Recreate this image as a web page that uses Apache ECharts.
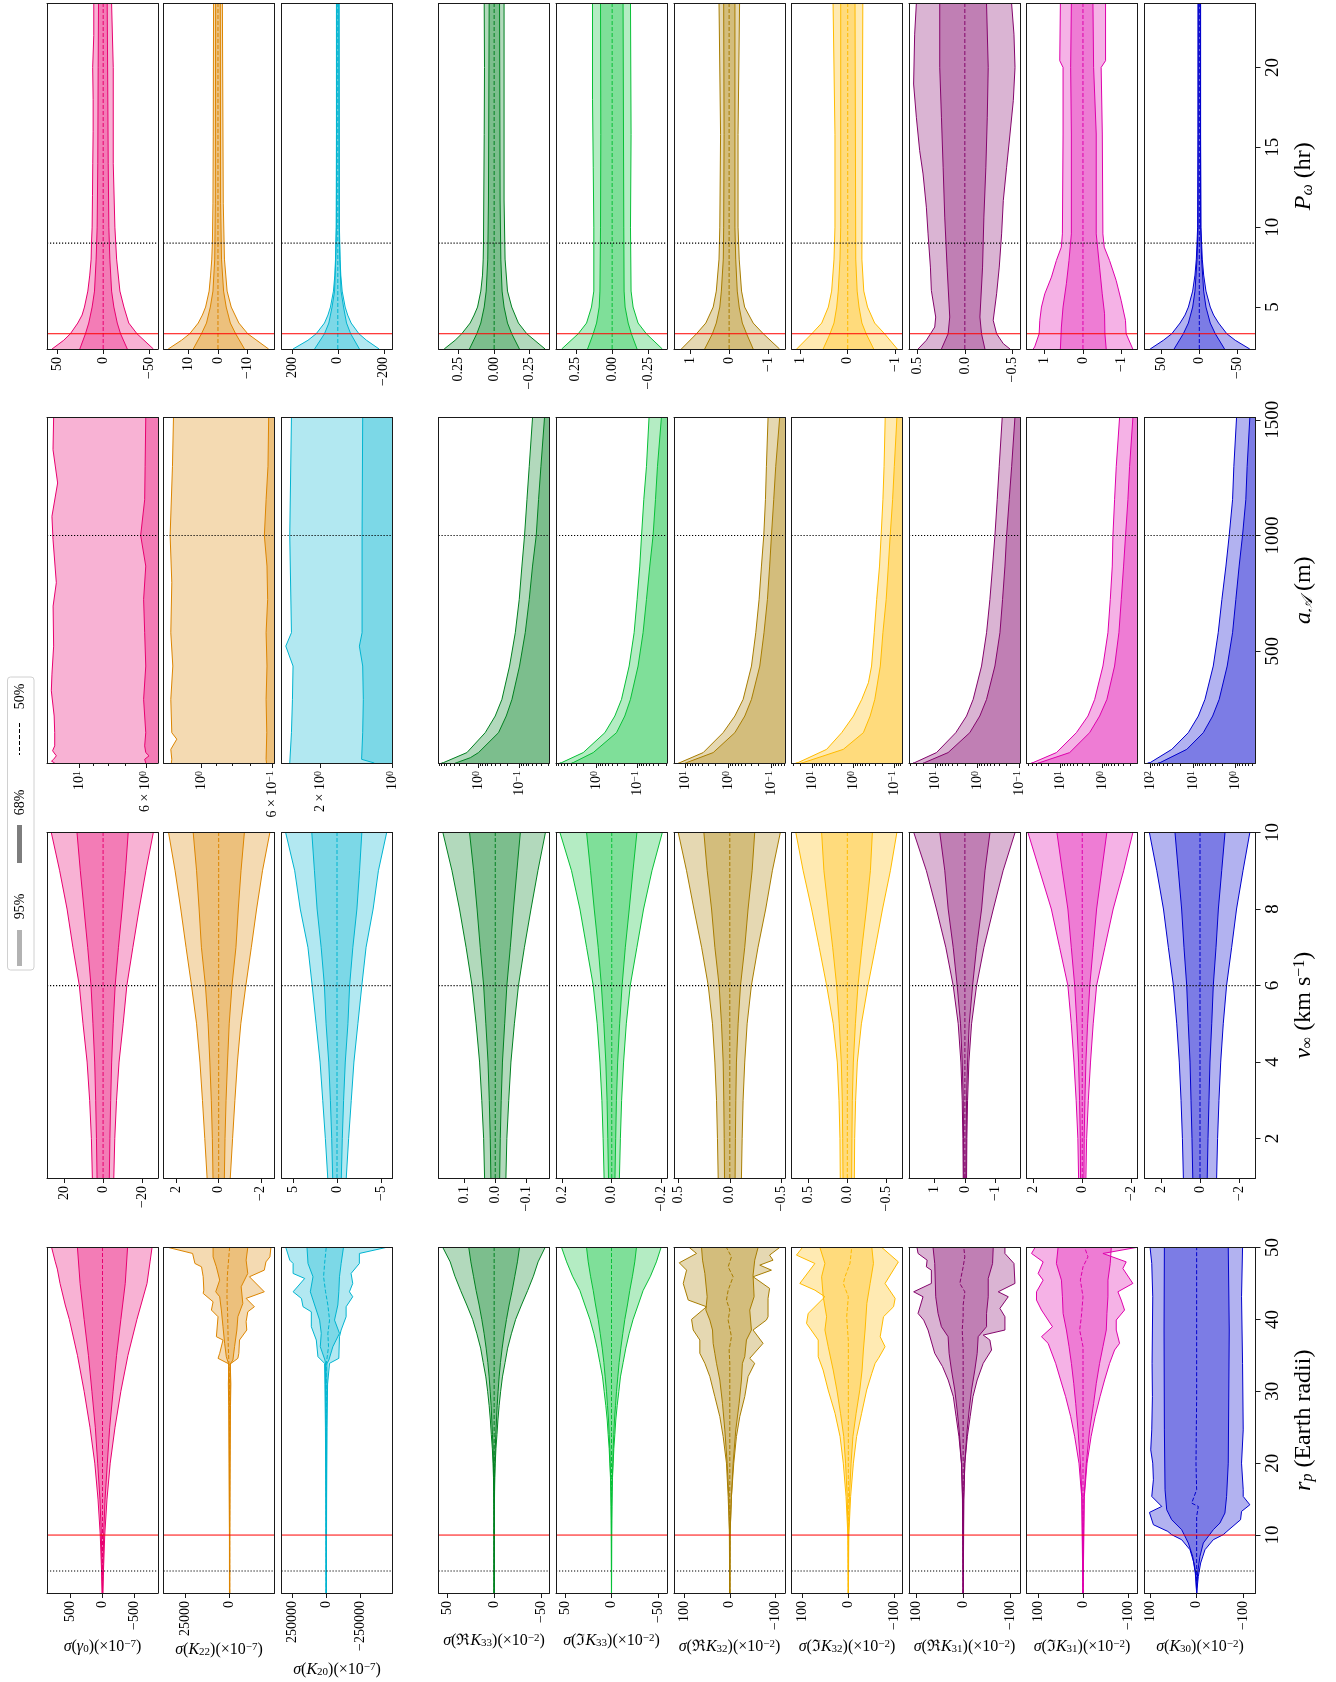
<!DOCTYPE html>
<html><head><meta charset="utf-8">
<script src="https://cdn.jsdelivr.net/npm/echarts/dist/echarts.min.js"></script>
<style>html,body{margin:0;padding:0;background:#fff}#c{width:1336px;height:1682px}</style>
</head><body><div id="c"></div>
<script>
// ---------------- DATA ----------------
// rows: 0 = P_omega (hr), 1 = a_A (m), 2 = v_inf (km/s), 3 = r_p (Earth radii)
const P_range = [2.375, 24], a_range = [17, 1510], v_range = [0.97, 10], rp_range = [1.94, 50];
const P_axisTicks = [5, 10, 15, 20], a_axisTicks = [500, 1000, 1500], v_axisTicks = [2, 4, 6, 8, 10], rp_axisTicks = [10, 20, 30, 40, 50];
const P_refDotted = 9, P_refRed = 3.33, a_refDotted = 1000, v_refDotted = 6, rp_refDotted = 5, rp_refRed = 10;

// value-axis ranges [min, max] per column
const P_vr = [[-60,61.5],[-19.2,18.5],[-238,245],[-0.39,0.392],[-0.377,0.386],[-1.44,1.42],[-1.16,1.19],[-0.585,0.592],[-1.41,1.46],[-73.5,71.7]];
const a_vr = [[5.46,12.84],[0.589,1.318],[1.0,2.9],[0.0186,9.46],[0.0188,9.3],[0.0483,18.7],[0.063,32.8],[0.096,43.7],[0.137,67.7],[0.341,136]];
const v_vr = [[-28.2,28.8],[-2.65,2.62],[-6.3,6.3],[-0.173,0.181],[-0.224,0.226],[-0.532,0.538],[-0.705,0.713],[-1.79,1.815],[-2.27,2.29],[-2.84,2.84]];
const rp_vr = [[-864,864],[-25166,37055],[-490200,330900],[-58.7,59],[-59.6,59.6],[-120.7,122],[-118,123.8],[-121.5,115.7],[-121.5,126],[-126.4,112]];

// value-axis tick labels
const P_ticks = [['50','0','−50'],['10','0','−10'],['200','0','−200'],['0.25','0.00','−0.25'],['0.25','0.00','−0.25'],['1','0','−1'],['1','0','−1'],['0.5','0.0','−0.5'],['1','0','−1'],['50','0','−50']];
const v_ticks = [['20','0','−20'],['2','0','−2'],['5','0','−5'],['0.1','0.0','−0.1'],['0.2','0.0','−0.2'],['0.5','0.0','−0.5'],['0.5','0.0','−0.5'],['1','0','−1'],['2','0','−2'],['2','0','−2']];
const rp_ticks = [['500','0','−500'],['25000','0'],['250000','0','−250000'],['50','0','−50'],['50','0','−50'],['100','0','−100'],['100','0','−100'],['100','0','−100'],['100','0','−100'],['100','0','−100']];
// log ticks: [value, mantissa, exponent]
const a_ticks = [[[10,1,1],[6,6,0]],[[1,1,0],[0.6,6,-1]],[[2,2,0],[1,1,0]],[[1,1,0],[0.1,1,-1]],[[1,1,0],[0.1,1,-1]],[[10,1,1],[1,1,0],[0.1,1,-1]],[[10,1,1],[1,1,0],[0.1,1,-1]],[[10,1,1],[1,1,0],[0.1,1,-1]],[[10,1,1],[1,1,0]],[[100,1,2],[10,1,1],[1,1,0]]];

const colNames = [
 '{i|σ}{n|(}{i|γ}{sb|0}{n|)(×10}{sp|−7}{n|)}',
 '{i|σ}{n|(}{i|K}{sb|22}{n|)(×10}{sp|−7}{n|)}',
 '{i|σ}{n|(}{i|K}{sb|20}{n|)(×10}{sp|−7}{n|)}',
 '{i|σ}{n|(ℜ}{i|K}{sb|33}{n|)(×10}{sp|−2}{n|)}',
 '{i|σ}{n|(ℑ}{i|K}{sb|33}{n|)(×10}{sp|−2}{n|)}',
 '{i|σ}{n|(ℜ}{i|K}{sb|32}{n|)(×10}{sp|−2}{n|)}',
 '{i|σ}{n|(ℑ}{i|K}{sb|32}{n|)(×10}{sp|−2}{n|)}',
 '{i|σ}{n|(ℜ}{i|K}{sb|31}{n|)(×10}{sp|−2}{n|)}',
 '{i|σ}{n|(ℑ}{i|K}{sb|31}{n|)(×10}{sp|−2}{n|)}',
 '{i|σ}{n|(}{i|K}{sb|30}{n|)(×10}{sp|−2}{n|)}'
];
const rowNames = ['{i|P}{sbi|ω}{n| (hr)}', '{i|a}{sbi|𝒜}{n| (m)}', '{i|v}{sb|∞}{n| (km s}{sp|−1}{n|)}', '{i|r}{sbi|p}{n| (Earth radii)}'];

// ---------- r_p row ----------
const rp_g0 = {
 hi95: [[1.94,6],[5,15],[10,35],[15,70],[20,120],[25,195],[30,286],[35,390],[40,516],[42,580],[45,661],[47,703],[48,735],[50,792]],
 hi68: [[1.94,3],[5,8],[10,18],[15,40],[20,75],[25,112],[30,165],[35,219],[40,286],[45,349],[50,390]],
 med: [[1.94,0],[10,0],[20,0],[30,0],[40,0],[50,0]],
 lo68: [[1.94,-3],[5,-8],[10,-18],[15,-40],[20,-75],[25,-112],[30,-165],[35,-219],[40,-286],[45,-354],[50,-390]],
 lo95: [[1.94,-6],[5,-15],[10,-35],[15,-70],[20,-120],[25,-195],[30,-286],[35,-396],[40,-536],[45,-693],[48,-740],[50,-771]]
};
const rp_K22 = {
 hi95: [[1.94,80],[10,100],[20,300],[28,500],[31,700],[33.8,370],[34.58,6482],[35.28,5556],[37.13,3704],[37.59,7408],[40.37,6482],[41.3,10186],[42.45,9260],[43.61,14816],[44.07,14446],[45.93,14816],[47.31,15742],[47.78,19446],[49.17,20742],[50,34262]],
 hi68: [[1.94,30],[10,50],[20,150],[28,250],[31,350],[33.8,556],[34.81,1852],[36.67,2778],[38.98,3704],[41.3,4630],[43.15,5556],[43.84,7778],[45.46,5556],[47.31,7408],[48.7,9260],[50,9260]],
 med: [[1.94,0],[31,0],[33.8,370],[36.2,741],[38.52,926],[40.83,1111],[43.15,1482],[45.93,1296],[47.78,741],[50,0]],
 lo68: [[1.94,-30],[10,-50],[20,-150],[28,-250],[31,-350],[33.8,-370],[34.35,-1852],[36.2,-2778],[38.52,-4074],[40.37,-4630],[42.22,-7408],[44.54,-6482],[46.39,-10186],[48.24,-9260],[50,-10186]],
 lo95: [[1.94,-80],[10,-100],[20,-300],[28,-500],[31,-700],[33.8,-370],[34.58,-4630],[35.28,-5186],[37.13,-5556],[38.52,-9630],[39.68,-9260],[41.06,-10186],[41.76,-13890],[42.92,-9260],[43.84,-19446],[45.93,-11112],[46.85,-19446],[48.0,-20372],[48.7,-22594],[50,-23150]]
};
const rp_K20 = {
 hi95: [[1.94,1000],[15,3000],[25,6000],[31,10000],[33.89,12300],[34.81,61300],[37.13,73500],[38.98,110300],[41.06,110300],[41.76,171600],[42.92,183800],[43.84,245100],[45.69,159300],[46.39,245100],[47.78,245100],[48.24,269600],[50,299000]],
 hi68: [[1.94,500],[15,1500],[25,3000],[31,5000],[33.8,4900],[34.35,9800],[36.2,44100],[38.06,36800],[39.9,49000],[42,85800],[43.84,117600],[45.93,98000],[47.78,134800],[50,142200]],
 med: [[1.94,0],[33.8,0],[36.2,-17000],[38,-12000],[39.9,-24500],[42,-12000],[43.84,4900],[45.93,19600],[47.78,12000],[50,0]],
 lo68: [[1.94,-500],[15,-1500],[25,-3000],[31,-5000],[33.8,-4900],[34.35,-19600],[36.2,-49000],[38.06,-98000],[39.9,-61300],[42,-85800],[43.84,-93100],[45.93,-98000],[47.78,-110300],[50,-127500]],
 lo95: [[1.94,-1000],[15,-3000],[25,-6000],[31,-10000],[33.89,-24500],[34.58,-93100],[37.59,-98000],[38.52,-110300],[40.37,-147100],[41.76,-147100],[43.15,-196100],[43.84,-171600],[45,-196100],[46.39,-183800],[47.78,-245100],[49.17,-245100],[50,-441200]]
};
const rp_ReK33 = {
 x:    [1.94,10,12,14,16,18,20,22,24,26,28,30,32,34,36,38,40,42,44,46,48,50],
 hi95: [0.05,0.12,0.2,0.3,0.45,0.7,1.2,1.9,3.0,4.0,5.3,6.9,8.8,11.6,14.3,18.3,22.8,29,35.5,41.6,46.6,54.4],
 hi68: [0.03,0.07,0.12,0.2,0.3,0.45,0.7,1.1,1.8,2.5,3.2,4.2,5.3,6.7,8.5,10.6,13.1,15.9,19.1,21.9,24.7,26.9],
 med:  [0,0,0,0,0,0,0,0,0,0,0,0,0,0,0,0,0,0,0,0,0,0],
 lo68: [-0.03,-0.07,-0.12,-0.2,-0.3,-0.45,-0.7,-1.1,-1.8,-2.5,-3.2,-4.2,-5.3,-6.7,-8.5,-10.6,-13.1,-15.9,-19.1,-21.9,-24.7,-26.9],
 lo95: [-0.05,-0.12,-0.2,-0.3,-0.45,-0.7,-1.2,-1.9,-3.0,-4.0,-5.3,-6.9,-8.8,-11.6,-14.3,-18.3,-22.8,-29,-35.5,-41.6,-46.6,-54]
};
const rp_ImK33 = {
 x:    [1.94,10,12,14,16,18,20,22,24,26,28,30,32,34,36,38,40,42,44,46,48,50],
 hi95: [0.05,0.2,0.3,0.45,0.7,1.1,1.8,2.5,3.6,4.6,6.1,7.9,9.6,12.5,15.4,18.9,23.2,28.6,33.9,41.8,48.2,53.6],
 hi68: [0.03,0.15,0.25,0.4,0.6,0.9,1.4,1.8,2.5,3.2,4.3,5.4,6.8,8.2,10,12.1,14.3,17.1,19.6,22.5,25,26.8],
 med:  [0,0,0,0,0,0,0,0,0,0,0,0,0,0,0,0,0,0,0,0,0,0],
 lo68: [-0.03,-0.15,-0.25,-0.4,-0.6,-0.9,-1.4,-1.8,-2.5,-3.2,-4.3,-5.4,-6.8,-8.2,-10,-12.1,-14.3,-17.1,-19.6,-22.5,-25,-26.8],
 lo95: [-0.05,-0.2,-0.3,-0.45,-0.7,-1.1,-1.8,-2.5,-3.6,-4.6,-6.1,-7.9,-9.6,-12.5,-15.4,-18.9,-23.2,-28.6,-33.9,-41.8,-48.2,-53.2]
};
const rp_ReK32 = {
 hi95: [[1.94,0.2],[10.74,1],[15.37,3.6],[20,7.3],[23.7,14.5],[26.48,21.8],[29.26,32.7],[32.04,43.6],[33.89,54.5],[35.28,65.5],[37.13,65.5],[38.52,80],[40,83.6],[41.76,50.9],[42.69,90.9],[45,101.8],[46.85,94.5],[47.87,110.5],[49.17,72.7],[50,88.7]],
 hi68: [[1.94,0.1],[10,0.5],[15.37,2.2],[20,5.8],[24.63,10.9],[28.33,16],[31.57,21.8],[33.89,29.1],[35.28,32.7],[36.67,36.4],[38.52,37.8],[39.9,43.6],[41.3,52.4],[43.15,49.5],[46.39,54.5],[48.24,59.6],[50,61.8]],
 med: [[1.94,0],[33.89,0],[35.74,1.5],[37.59,-3.6],[39.9,3.6],[41.3,0],[42.69,7.3],[44.07,3.6],[45.93,-7.3],[47.31,3.6],[48.7,-3.6],[50,7.3]],
 lo68: [[1.94,-0.1],[10,-0.5],[15.37,-3.6],[20,-7.3],[24.63,-13.1],[28.33,-20.4],[31.57,-25.5],[33.89,-27.6],[34.81,-32.7],[37.13,-36.4],[38.52,-47.3],[41.3,-43.6],[43.15,-53.1],[46.16,-50.9],[48.24,-54.5],[50,-61.8]],
 lo95: [[1.94,-0.2],[10.74,-1],[15.37,-3.6],[20,-8.7],[23.7,-14.5],[26.48,-21.8],[29.26,-32.7],[32.04,-40],[33.89,-54.5],[34.58,-43.6],[36.67,-72.7],[38.52,-50.9],[39.91,-80],[40.37,-83.6],[42.92,-83.6],[44.31,-87],[45.93,-51],[46.85,-91],[47.55,-65.5],[48.24,-94.5],[48.94,-87],[50,-109]]
};
const rp_ImK32 = {
 hi95: [[1.94,0.2],[10,1],[15.37,5],[20,11],[23.7,18],[26.94,29],[30.19,44],[32.96,55],[34.81,65.6],[37.13,65.6],[39.44,91],[40.83,87.5],[43.15,51],[44.07,72.9],[45,105.7],[47.78,72.9],[48.94,113],[50,100]],
 hi68: [[1.94,0.1],[10,0.5],[15.37,2.5],[20,6],[23.7,10],[26.94,17],[30.19,25],[32.96,33],[36.2,43.8],[38.52,51],[40.37,47.3],[43.15,54.7],[45.93,58.2],[47.78,51],[50,61.9]],
 med: [[1.94,0],[37,0],[40.37,3.6],[43.15,0],[45,10.9],[45.93,7.2],[47.78,-3.6],[50,-7.4]],
 lo68: [[1.94,-0.1],[10,-0.5],[15.37,-2.5],[20,-6],[23.7,-10],[26.94,-17],[30.19,-25],[32.96,-30],[35.74,-32.8],[38.52,-36.5],[42.22,-40.3],[45,-47.5],[47.78,-54.7],[50,-51.2]],
 lo95: [[1.94,-0.2],[10,-1],[15.37,-5],[20,-11],[23.7,-18],[26.94,-29],[30.19,-40],[32.5,-51.2],[33.89,-58.4],[34.58,-65.6],[36.2,-80],[37.59,-69.4],[40.37,-76.6],[41.76,-98.5],[42.92,-102],[45,-80],[48,-109],[50,-73]]
};
const rp_ReK31 = {
 hi95: [[1.94,0.2],[15,1.5],[20,3.6],[23.7,9],[26.48,15],[29.26,21],[31.57,32],[33.43,44],[35.28,60.7],[38.52,75],[39.9,84.3],[40.83,96.4],[43.15,85.7],[43.84,105.7],[45,67.9],[46.85,67.9],[47.31,78.6],[48.24,77],[49.17,96.4],[50,98.6]],
 hi68: [[1.94,0.1],[15,1],[20,3.6],[24.63,8.6],[27.41,12.9],[30.19,17.9],[32.96,25],[35.28,30],[37.59,32.1],[38.98,46.4],[40.83,53.6],[43.15,58.6],[47.78,60.7],[50,64.3]],
 med: [[1.94,0],[36,0],[38.5,2],[40.4,0],[42,0],[43.84,-3.6],[45,7.1],[47.3,0],[48.7,-3.6],[50,-1.4]],
 lo68: [[1.94,-0.1],[15,-1],[20,-3.6],[24.63,-8.6],[27.41,-12.9],[30.19,-17.9],[32.96,-25],[35.28,-30],[37.59,-32.1],[38.98,-50],[40.83,-50],[43.15,-53.6],[45.69,-53.6],[47.78,-62.9],[50,-64.3]],
 lo95: [[1.94,-0.2],[15,-1.5],[20,-3.6],[23.7,-9],[26.48,-15],[29.26,-21],[31.57,-30],[33.89,-42.9],[35.74,-60.7],[37.13,-57.1],[37.82,-42.9],[38.52,-89.3],[40.37,-89.3],[41.53,-78.6],[43.15,-96.4],[43.84,-75],[45,-110.7],[47.78,-108.6],[49.17,-89.3],[50,-89.3]]
};
const rp_ImK31 = {
 hi95: [[1.94,0.2],[15.37,3],[20,9],[23.7,18.5],[26.48,27.5],[29.26,38.8],[31.57,50],[33.89,61],[36.67,77.8],[37.59,92.6],[38.98,68.1],[41.3,92.6],[42.69,103.7],[43.84,103.7],[45.46,88.9],[46.39,100],[48,88.9],[49.17,114.8],[50,107]],
 hi68: [[1.94,0.1],[15,2],[20,5.9],[24.63,11.1],[28.33,16.3],[31.11,20.7],[33.89,25.9],[36.2,31.1],[38.52,37],[40.83,44.4],[43.15,45.9],[45.46,48.1],[47.78,59.3],[50,55.6]],
 med: [[1.94,0],[33.89,0],[36.2,0],[38.52,7.4],[40.37,3.7],[43.15,0],[45.46,5.9],[47.31,0],[48.7,-11.1],[50,-3.7]],
 lo68: [[1.94,-0.1],[15,-2],[20,-7.4],[24.63,-14.8],[28.33,-23.7],[31.11,-29.6],[33.89,-37],[36.2,-44.4],[38.52,-51.9],[40.83,-53.3],[43.15,-55.6],[45.46,-55.6],[47.78,-60.7],[50,-63]],
 lo95: [[1.94,-0.2],[15.37,-3],[20,-9],[23.7,-18],[26.48,-27],[29.26,-38],[31.57,-48.1],[33.89,-59.3],[35.74,-70.4],[36.67,-81.5],[38.52,-74.1],[39.91,-74.1],[41.3,-92.6],[42.69,-85.2],[43.84,-77.8],[45,-111.1],[47.08,-88.9],[48,-96.3],[49.17,-44.4],[50,-118.5]]
};
const rp_K30 = {
 hi95: [[1.94,0],[4.26,1.4],[6.11,5.7],[7.96,14.3],[9.35,32.1],[10.05,53.6],[10.51,62],[11.44,92.9],[13.15,101.4],[13.98,75],[15.37,96.4],[17.69,92.9],[20,94.3],[21.85,98.6],[24.63,96.4],[29.26,95],[33.89,95.7],[38.52,95],[43.15,94.3],[47.78,96.4],[50,100]],
 hi68: [[1.94,0],[4.72,2.9],[7.04,8.6],[8.89,17.9],[10.74,32.1],[12.13,53.6],[13.52,64.3],[16.3,67.9],[24.63,69.3],[38.52,70],[50,69.3]],
 med: [[1.94,0],[12.59,0],[13.98,-3.6],[14.44,10.7],[16.3,0],[20,1.4],[29.26,0],[50,0]],
 lo68: [[1.94,0],[4.72,-2.1],[7.04,-7.1],[8.89,-14.3],[10.74,-35.7],[11.67,-50],[13.06,-60.7],[15.37,-64.3],[20,-67.9],[38.52,-70],[50,-67.9]],
 lo95: [[1.94,0],[4.26,-3.6],[6.11,-8.6],[7.96,-17.9],[9.35,-35.7],[10.05,-57.1],[10.51,-65],[12.13,-94.3],[13.29,-96.4],[14.21,-114.3],[15.37,-100],[16.3,-100],[20,-96.4],[24.63,-100],[33.89,-98.6],[43.15,-96.4],[50,-98.6]]
};

// ---------- v_inf row ----------
const v_x = [0.97,2,3,4,5,6,7,8,9,10];
const v_g0 = {
 hi95: [5.5,6.0,6.9,8.2,10.3,12.2,15.5,18.5,22.3,26.6], hi68: [3.1,3.4,3.8,4.3,5.2,6.2,7.9,9.8,11.7,13.4], med: [0,0,0,0,0,0,0,0,0,0],
 lo68: [-3.2,-3.5,-3.9,-4.4,-5.2,-6.2,-7.9,-9.8,-11.5,-12.9], lo95: [-5.5,-6,-6.9,-8.2,-10.3,-12.2,-15.3,-18.5,-22,-25.8]
};
const v_K22 = {
 hi95: [0.55,0.66,0.77,0.89,1.05,1.29,1.55,1.8,2.07,2.38], hi68: [0.27,0.3,0.35,0.42,0.5,0.63,0.82,0.93,1.05,1.21], med: [0,0,0,0,0,0,0,0,0,0],
 lo68: [-0.27,-0.3,-0.35,-0.42,-0.5,-0.63,-0.82,-0.93,-1.06,-1.22], lo95: [-0.55,-0.66,-0.77,-0.89,-1.05,-1.29,-1.55,-1.8,-2.08,-2.43]
};
const v_K20 = {
 hi95: [1.05,1.32,1.62,1.92,2.37,2.82,3.3,4.17,4.8,5.83], hi68: [0.49,0.6,0.75,0.94,1.24,1.43,1.8,2.26,2.56,2.86], med: [0,0,0,0,0,0,0,0,0,0],
 lo68: [-0.49,-0.6,-0.75,-0.94,-1.24,-1.43,-1.8,-2.26,-2.56,-2.82], lo95: [-1.05,-1.32,-1.62,-1.92,-2.37,-2.82,-3.3,-4.1,-4.7,-5.64]
};
const v_ReK33 = {
 hi95: [0.034,0.037,0.043,0.05,0.061,0.074,0.093,0.114,0.138,0.167], hi68: [0.014,0.016,0.019,0.023,0.03,0.037,0.048,0.058,0.069,0.082], med: [0,0,0,0,0,0,0,0,0,0],
 lo68: [-0.014,-0.016,-0.019,-0.023,-0.03,-0.037,-0.048,-0.058,-0.069,-0.08], lo95: [-0.034,-0.037,-0.043,-0.05,-0.061,-0.074,-0.093,-0.114,-0.136,-0.16]
};
const v_ImK33 = {
 hi95: [0.031,0.035,0.04,0.048,0.059,0.075,0.102,0.129,0.163,0.21], hi68: [0.013,0.016,0.019,0.024,0.032,0.042,0.055,0.071,0.086,0.102], med: [0,0,0,0,0,0,0,0,0,0],
 lo68: [-0.013,-0.016,-0.019,-0.024,-0.032,-0.042,-0.055,-0.071,-0.086,-0.102], lo95: [-0.031,-0.035,-0.04,-0.048,-0.059,-0.075,-0.102,-0.129,-0.163,-0.205]
};
const v_ReK32 = {
 hi95: [0.112,0.119,0.128,0.144,0.167,0.208,0.272,0.346,0.417,0.497], hi68: [0.051,0.054,0.058,0.064,0.08,0.103,0.144,0.176,0.218,0.25], med: [0,0,0,0,0,0,0,0,0,0],
 lo68: [-0.051,-0.054,-0.058,-0.064,-0.08,-0.103,-0.144,-0.176,-0.215,-0.24], lo95: [-0.112,-0.119,-0.128,-0.144,-0.167,-0.208,-0.272,-0.346,-0.41,-0.487]
};
const v_ImK32 = {
 hi95: [0.09,0.094,0.106,0.128,0.18,0.264,0.359,0.456,0.564,0.658], hi68: [0.055,0.059,0.064,0.077,0.103,0.136,0.187,0.244,0.299,0.328], med: [0,0,0,0,0,0,0,0,0,0],
 lo68: [-0.055,-0.059,-0.064,-0.077,-0.103,-0.136,-0.187,-0.244,-0.295,-0.32], lo95: [-0.09,-0.094,-0.106,-0.128,-0.18,-0.264,-0.359,-0.45,-0.55,-0.633]
};
const v_ReK31 = {
 hi95: [0.054,0.065,0.087,0.13,0.217,0.38,0.62,0.924,1.25,1.66], hi68: [0.033,0.043,0.054,0.087,0.141,0.25,0.38,0.543,0.652,0.815], med: [0,0,0,0,0,0,0,0,0,0],
 lo68: [-0.033,-0.043,-0.054,-0.087,-0.141,-0.25,-0.38,-0.543,-0.652,-0.815], lo95: [-0.054,-0.065,-0.087,-0.13,-0.217,-0.38,-0.62,-0.924,-1.24,-1.63]
};
const v_ImK31 = {
 hi95: [0.15,0.18,0.25,0.34,0.45,0.59,0.93,1.27,1.75,2.23], hi68: [0.07,0.08,0.11,0.15,0.22,0.31,0.45,0.59,0.82,1.04], med: [0,0,0,0,0,0,0,0,0,0],
 lo68: [-0.07,-0.08,-0.11,-0.15,-0.22,-0.31,-0.45,-0.59,-0.8,-1.01], lo95: [-0.15,-0.18,-0.25,-0.34,-0.45,-0.59,-0.93,-1.27,-1.7,-2.08]
};
const v_K30 = {
 hi95: [0.85,0.9,0.97,1.06,1.19,1.36,1.62,1.87,2.21,2.59], hi68: [0.37,0.41,0.46,0.51,0.6,0.68,0.82,0.94,1.11,1.28], med: [0,0,0,0,0,0,0,0,0,0],
 lo68: [-0.37,-0.41,-0.46,-0.51,-0.6,-0.68,-0.82,-0.94,-1.11,-1.28], lo95: [-0.85,-0.9,-0.97,-1.06,-1.19,-1.36,-1.62,-1.87,-2.2,-2.55]
};

// ---------- a_A row (log, curves of sigma) ----------
const a_g0 = {
 c95: [[17,12.1],[25,12.4],[33,12.2],[48,11.95],[70,12.3],[91,12.1],[148,12.1],[220,12.15],[329,12.42],[401,12.36],[522,12.2],[695,12.25],[796,11.95],[983,12.26],[1083,12.36],[1227,11.83],[1371,12.26],[1510,12.2]],
 c68: [[17,6.0],[33,6.05],[48,5.85],[62,6.0],[91,6.05],[148,6.0],[292,6.1],[436,6.0],[580,6.05],[724,6.1],[868,6.0],[1000,6.24],[1155,6.05],[1299,6.03],[1510,6.0]]
};
const a_K22 = {
 c95: [[17,1.245],[33,1.241],[76,1.25],[120,1.197],[148,1.241],[292,1.25],[436,1.232],[580,1.25],[796,1.241],[1000,1.256],[1299,1.235],[1510,1.226]],
 c68: [[17,0.624],[33,0.626],[148,0.623],[292,0.626],[436,0.622],[580,0.626],[724,0.619],[868,0.622],[1000,0.634],[1155,0.626],[1299,0.6175],[1510,0.6145]]
};
const a_K20 = {
 c95: [[17,2.679],[148,2.636],[292,2.611],[436,2.596],[522,2.783],[580,2.636],[1000,2.679],[1510,2.636]],
 c68: [[17,1.191],[33,1.345],[148,1.331],[292,1.323],[436,1.331],[522,1.374],[580,1.339],[1000,1.339],[1510,1.331]]
};
const a_ReK33 = {
 c95: [[17,8.0],[18.7,7.14],[62,1.92],[148,0.687],[220,0.392],[292,0.269],[436,0.175],[580,0.127],[724,0.1017],[868,0.0875],[1000,0.0755],[1155,0.066],[1299,0.058],[1510,0.0482]],
 c68: [[17,3.7],[18.7,3.37],[40,1.58],[62,1.0],[148,0.325],[220,0.211],[292,0.153],[436,0.1],[580,0.0726],[724,0.058],[868,0.0482],[1000,0.0392],[1155,0.0344],[1299,0.0301],[1510,0.0246]]
};
const a_ImK33 = {
 c95: [[17,7.6],[18.7,6.77],[62,2.03],[148,0.605],[220,0.347],[292,0.239],[436,0.156],[580,0.118],[724,0.1],[868,0.086],[1000,0.078],[1155,0.0688],[1299,0.0592],[1510,0.0513]],
 c68: [[17,3.9],[18.7,3.55],[62,1.16],[148,0.316],[220,0.199],[292,0.145],[436,0.0946],[580,0.0716],[724,0.0592],[868,0.0492],[1000,0.0409],[1155,0.0358],[1299,0.032],[1510,0.0257]]
};
const a_ReK32 = {
 c95: [[17,14.8],[18.7,13.6],[62,3.9],[148,1.34],[220,0.713],[292,0.457],[436,0.292],[580,0.232],[724,0.194],[868,0.171],[1000,0.151],[1155,0.138],[1299,0.131],[1510,0.12]],
 c68: [[17,10.2],[18.7,9.48],[62,2.28],[148,0.713],[220,0.418],[292,0.292],[436,0.187],[580,0.149],[724,0.124],[868,0.11],[1000,0.1],[1155,0.0885],[1299,0.0794],[1510,0.0642]]
};
const a_ImK32 = {
 c95: [[17,26],[18.7,22.6],[76,4.53],[148,1.94],[220,1.0],[292,0.625],[364,0.43],[436,0.36],[580,0.31],[724,0.27],[868,0.23],[1000,0.21],[1155,0.19],[1299,0.178],[1510,0.167]],
 c68: [[17,19],[18.7,17],[76,1.77],[148,0.571],[220,0.39],[292,0.3],[436,0.22],[580,0.19],[724,0.158],[868,0.14],[1000,0.126],[1155,0.11],[1299,0.1],[1510,0.0863]]
};
const a_ReK31 = {
 c95: [[17,35],[18.7,31.9],[62,9.6],[148,3.31],[220,1.83],[292,1.27],[436,0.8],[580,0.607],[724,0.505],[868,0.435],[1000,0.383],[1155,0.337],[1299,0.302],[1510,0.256]],
 c68: [[17,20],[18.7,18.4],[62,5.06],[148,1.53],[220,0.879],[292,0.607],[436,0.383],[580,0.29],[724,0.251],[868,0.22],[1000,0.201],[1155,0.174],[1299,0.152],[1510,0.127]]
};
const a_ImK31 = {
 c95: [[17,52],[18.7,46.9],[62,12.7],[148,4.17],[220,2.18],[292,1.5],[436,0.946],[580,0.715],[724,0.627],[868,0.561],[1000,0.541],[1155,0.493],[1299,0.449],[1510,0.373]],
 c68: [[17,36],[18.7,32.2],[62,6.06],[148,1.99],[220,1.14],[292,0.757],[436,0.493],[580,0.387],[724,0.339],[868,0.298],[1000,0.267],[1155,0.234],[1299,0.213],[1510,0.177]]
};
const a_K30 = {
 c95: [[17,115],[18.7,100],[76,31.2],[148,12.8],[220,7.45],[292,5.21],[436,3.33],[580,2.55],[724,2.09],[868,1.68],[1000,1.41],[1155,1.175],[1299,1.096],[1510,0.948]],
 c68: [[17,66],[18.7,58.5],[76,13.9],[148,5.7],[220,3.44],[292,2.42],[436,1.57],[580,1.175],[724,0.984],[868,0.824],[1000,0.687],[1155,0.575],[1299,0.535],[1510,0.463]]
};

// ---------- P_omega row ----------
const P_g0 = {
 hi95: [[2.375,56],[2.92,43.2],[3.33,35.9],[4,27.8],[4.5,23.1],[5,20.5],[6,16.8],[7,14.7],[8,13.2],[9,12.8],[10,12.1],[12,11.7],[14,11.4],[16,11],[18,11],[20,11.5],[22,10.3],[24,10.3]],
 hi68: [[2.375,25.6],[3.33,19.4],[4,15.8],[5,12.1],[6,9.5],[8,7.7],[10,6.6],[14,5.9],[20,5.5],[24,5.1]],
 med: [[2.375,0],[10,0],[24,0]],
 lo68: [[2.375,-26.4],[3.33,-19],[4,-15.4],[5,-11.7],[6,-9.2],[8,-7.3],[10,-6.2],[14,-5.5],[24,-4.4]],
 lo95: [[2.375,-55],[3.33,-37],[4,-28],[5,-22.7],[6,-18.3],[8,-14.7],[10,-12.8],[14,-11],[20,-11],[24,-9.2]]
};
const P_K22 = {
 hi95: [[2.375,16.9],[2.92,12.4],[3.33,9.6],[4,6.7],[4.5,5.3],[5,4.2],[6,3.0],[7,2.5],[8,2.1],[9,1.9],[11.5,1.7],[15.7,1.6],[24,1.5]],
 hi68: [[2.375,8.4],[3.33,5.6],[4,3.9],[5,2.6],[6,1.7],[8,1.1],[11.5,0.9],[24,0.8]],
 med: [[2.375,0],[10,0],[24,0]],
 lo68: [[2.375,-9],[3.33,-6],[4,-4.2],[5,-2.8],[6,-1.9],[8,-1.2],[11.5,-0.9],[24,-0.8]],
 lo95: [[2.375,-17.2],[3.33,-10.1],[4,-7.1],[5,-4.5],[6,-3.1],[8,-2.2],[11.5,-1.8],[24,-1.5]]
};
const P_K20 = {
 hi95: [[2.375,195],[2.92,130],[3.33,94],[4,58],[4.5,43],[5,32],[6,19],[7,13],[8,10],[10,7],[15.8,6],[24,6]],
 hi68: [[2.375,101],[3.33,58],[4,39],[5,25],[6,14],[8,9],[10,6],[24,4]],
 med: [[2.375,0],[10,0],[24,0]],
 lo68: [[2.375,-94],[3.33,-56],[4,-38],[5,-25],[6,-14],[8,-9],[10,-6],[24,-4]],
 lo95: [[2.375,-180],[2.92,-125],[3.33,-92],[4,-58],[4.5,-43],[5,-32],[6,-19],[7,-13],[8,-10],[10,-7],[24,-6]]
};
const P_ReK33 = {
 hi95: [[2.375,0.352],[2.92,0.275],[3.33,0.228],[4,0.169],[4.5,0.141],[5,0.117],[6,0.094],[7,0.082],[8,0.077],[9,0.075],[11.7,0.073],[15.8,0.07],[20,0.068],[24,0.07]],
 hi68: [[2.375,0.174],[3.33,0.122],[4,0.094],[5,0.07],[6,0.056],[8,0.045],[11.7,0.04],[24,0.035]],
 med: [[2.375,0],[10,0],[24,0]],
 lo68: [[2.375,-0.178],[3.33,-0.124],[4,-0.094],[5,-0.07],[6,-0.056],[8,-0.047],[11.7,-0.042],[24,-0.038]],
 lo95: [[2.375,-0.359],[3.33,-0.23],[4,-0.171],[5,-0.124],[6,-0.094],[8,-0.077],[11.7,-0.07],[24,-0.07]]
};
const P_ImK33 = {
 hi95: [[2.375,0.347],[3.33,0.233],[4,0.176],[5,0.142],[6,0.126],[10,0.126],[13.75,0.13],[18,0.135],[24,0.135]],
 hi68: [[2.375,0.169],[3.33,0.13],[4,0.107],[5,0.089],[6,0.084],[10,0.08],[15.8,0.078],[24,0.08]],
 med: [[2.375,0],[10,0],[24,0]],
 lo68: [[2.375,-0.171],[3.33,-0.132],[4,-0.11],[5,-0.089],[6,-0.082],[10,-0.08],[24,-0.075]],
 lo95: [[2.375,-0.345],[3.33,-0.235],[4,-0.178],[5,-0.144],[6,-0.13],[10,-0.126],[15.8,-0.13],[24,-0.126]]
};
const P_ReK32 = {
 hi95: [[2.375,1.23],[3.33,0.84],[4,0.6],[5,0.41],[6,0.33],[8,0.26],[10,0.24],[15.8,0.22],[24,0.26]],
 hi68: [[2.375,0.63],[3.33,0.43],[4,0.33],[5,0.24],[6,0.2],[8,0.15],[10,0.14],[15.8,0.13],[24,0.14]],
 med: [[2.375,0],[10,0],[24,0]],
 lo68: [[2.375,-0.62],[3.33,-0.45],[4,-0.34],[5,-0.26],[6,-0.21],[8,-0.17],[10,-0.15],[24,-0.15]],
 lo95: [[2.375,-1.3],[3.33,-0.88],[4,-0.62],[5,-0.4],[6,-0.32],[8,-0.26],[10,-0.23],[15.8,-0.23],[24,-0.27]]
};
const P_ImK32 = {
 hi95: [[2.375,1.08],[3.33,0.76],[4,0.55],[5,0.41],[6,0.34],[8,0.29],[10,0.27],[15.8,0.27],[24,0.31]],
 hi68: [[2.375,0.52],[3.33,0.375],[4,0.29],[5,0.233],[6,0.2],[8,0.163],[10,0.148],[24,0.148]],
 med: [[2.375,0],[10,0],[24,0]],
 lo68: [[2.375,-0.55],[3.33,-0.39],[4,-0.3],[5,-0.24],[6,-0.2],[8,-0.17],[24,-0.155]],
 lo95: [[2.375,-1.05],[3.33,-0.78],[4,-0.57],[5,-0.42],[6,-0.34],[8,-0.3],[24,-0.32]]
};
const P_ReK31 = {
 hi95: [[2.375,0.496],[2.92,0.408],[3.75,0.319],[4.375,0.309],[6.04,0.355],[7.5,0.365],[9.58,0.39],[11.25,0.408],[13.33,0.443],[14.79,0.479],[16.88,0.514],[18.96,0.543],[22.08,0.532],[24,0.514]],
 hi68: [[2.375,0.248],[3.33,0.177],[4.375,0.16],[7.5,0.188],[10.63,0.213],[13.75,0.23],[16.88,0.248],[20,0.266],[24,0.266]],
 med: [[2.375,0],[10,0],[24,0]],
 lo68: [[2.375,-0.213],[3.33,-0.177],[4.375,-0.16],[7.5,-0.188],[10.63,-0.202],[13.75,-0.223],[16.88,-0.238],[20,-0.248],[24,-0.23]],
 lo95: [[2.375,-0.479],[2.71,-0.408],[3.33,-0.337],[4.17,-0.301],[5.83,-0.337],[7.5,-0.365],[9.58,-0.39],[11.67,-0.408],[13.75,-0.443],[15.83,-0.479],[17.92,-0.514],[20,-0.532],[22.08,-0.521],[24,-0.496]]
};
const P_ImK31 = {
 hi95: [[2.375,1.288],[2.5,1.25],[3.33,1.133],[4.17,1.116],[5,1.073],[5.83,0.987],[6.875,0.815],[7.92,0.687],[8.75,0.56],[9.58,0.532],[15.83,0.515],[20,0.515],[20.42,0.6],[24,0.584]],
 hi68: [[2.375,0.584],[3.75,0.558],[5,0.515],[6.46,0.429],[7.92,0.361],[9.58,0.3],[15.83,0.3],[20,0.318],[24,0.3]],
 med: [[2.375,0],[10,0],[24,0]],
 lo68: [[2.375,-0.601],[3.33,-0.567],[4.58,-0.558],[5.83,-0.498],[7.5,-0.429],[9.58,-0.343],[15.83,-0.343],[20,-0.275],[24,-0.258]],
 lo95: [[2.375,-1.288],[3.33,-1.116],[4.17,-1.099],[5.42,-0.987],[6.67,-0.858],[7.92,-0.687],[8.75,-0.55],[9.58,-0.515],[15.83,-0.5],[20,-0.47],[20.42,-0.584],[24,-0.584]]
};
const P_K30 = {
 hi95: [[2.375,64.3],[2.92,47],[3.33,36],[4,25.2],[4.5,18.7],[5,14.3],[6,8.7],[7,5.7],[8,3.9],[9,3],[10,2.2],[15.8,1.7],[24,1.7]],
 hi68: [[2.375,33],[3.33,20.9],[4,14.3],[5,8.7],[6,5.7],[8,3],[10,1.7],[24,1.3]],
 med: [[2.375,0],[10,0],[24,0]],
 lo68: [[2.375,-33],[3.33,-20.9],[4,-14.3],[5,-8.7],[6,-5.7],[8,-3],[10,-1.7],[24,-1.3]],
 lo95: [[2.375,-66],[2.92,-47],[3.33,-36],[4,-25.2],[4.5,-18.7],[5,-14.3],[6,-8.7],[7,-5.7],[8,-3.9],[9,-3],[10,-2.2],[15.8,-1.7],[24,-1.7]]
};

// ---------------- STYLE / LAYOUT ----------------
const FONT = 'Liberation Serif';
const LINE_COLORS = ['#e80070','#dc8500','#00b4d0','#008020','#08c037','#a87d00','#ffbb00','#84056c','#de00ac','#0000cc'];
const PANEL_LEFT = [47,163.5,281.5,438.5,556,674,791.5,909,1026.5,1144.5];
const PANEL_W = 111;
const ROW_TOP = [3.5,417.5,832.5,1247.5];
const ROW_H = 345.5;
const NAME_GAP = [46,49,69,40,40,46,46,46,46,46];

const ROWS = [
  {range:P_range, ticks:P_axisTicks, dotted:P_refDotted, red:P_refRed, vr:P_vr, labels:P_ticks, data:[P_g0,P_K22,P_K20,P_ReK33,P_ImK33,P_ReK32,P_ImK32,P_ReK31,P_ImK31,P_K30]},
  {range:a_range, ticks:a_axisTicks, dotted:a_refDotted, red:null, vr:a_vr, labels:a_ticks, log:true, data:[a_g0,a_K22,a_K20,a_ReK33,a_ImK33,a_ReK32,a_ImK32,a_ReK31,a_ImK31,a_K30]},
  {range:v_range, ticks:v_axisTicks, dotted:v_refDotted, red:null, vr:v_vr, labels:v_ticks, xgrid:v_x, data:[v_g0,v_K22,v_K20,v_ReK33,v_ImK33,v_ReK32,v_ImK32,v_ReK31,v_ImK31,v_K30]},
  {range:rp_range, ticks:rp_axisTicks, dotted:rp_refDotted, red:rp_refRed, vr:rp_vr, labels:rp_ticks, data:[rp_g0,rp_K22,rp_K20,rp_ReK33,rp_ImK33,rp_ReK32,rp_ImK32,rp_ReK31,rp_ImK31,rp_K30]}
];

function hexA(hex, a) {
  const n = parseInt(hex.slice(1), 16);
  return 'rgba(' + ((n >> 16) & 255) + ',' + ((n >> 8) & 255) + ',' + (n & 255) + ',' + a + ')';
}
function edge(panel, key, xgrid) {
  const e = panel[key];
  const xs = panel.x || xgrid;
  if (xs && typeof e[0] === 'number') return xs.map((x, i) => [x, e[i]]);
  return e;
}
function minorTicks(lo, hi, majors) {
  const out = [];
  for (let e = Math.floor(Math.log10(lo)) - 1; e <= Math.ceil(Math.log10(hi)); e++) {
    for (let m = 1; m <= 9; m++) {
      const v = m * Math.pow(10, e);
      if (v >= lo * 0.9999 && v <= hi * 1.0001 && !majors.some(t => Math.abs(t - v) / t < 1e-6)) out.push(+v.toPrecision(6));
    }
  }
  return out;
}
const richTick = { n: {fontSize: 14, fontFamily: FONT, color: '#000'}, s: {fontSize: 10, fontFamily: FONT, color: '#000', verticalAlign: 'top'} };
const richName = (fs, fss) => ({
  n: {fontSize: fs, fontFamily: FONT, color: '#000'},
  i: {fontSize: fs, fontFamily: FONT, fontStyle: 'italic', color: '#000'},
  sb: {fontSize: fss, fontFamily: FONT, color: '#000', verticalAlign: 'bottom'},
  sbi: {fontSize: fss, fontFamily: FONT, fontStyle: 'italic', color: '#000', verticalAlign: 'bottom'},
  sp: {fontSize: fss, fontFamily: FONT, color: '#000', verticalAlign: 'top'}
});

const option = {animation: false, backgroundColor: '#fff', textStyle: {fontFamily: FONT}, grid: [], xAxis: [], yAxis: [], series: [], graphic: []};
const AXC = '#1a1a1a';

ROWS.forEach((row, r) => {
  for (let c = 0; c < 10; c++) {
    const g = option.grid.length;
    option.grid.push({left: PANEL_LEFT[c], top: ROW_TOP[r], width: PANEL_W, height: ROW_H, containLabel: false});
    const vr = row.vr[c];
    const color = LINE_COLORS[c];
    const xi = option.xAxis.length;
    let tickVals, fmt;
    if (row.log) {
      const tk = row.labels[c];
      tickVals = tk.map(t => t[0]);
      fmt = v => {
        const t = tk.find(t => Math.abs(t[0] - v) / t[0] < 1e-6);
        if (!t) return '';
        const ex = String(t[2]).replace('-', '−');
        return t[1] === 1 ? '{n|10}{s|' + ex + '}' : '{n|' + t[1] + ' × 10}{s|' + ex + '}';
      };
    } else {
      const strs = row.labels[c];
      tickVals = strs.map(s => Number(s.replace('−', '-')));
      fmt = v => {
        const i = tickVals.findIndex(t => Math.abs(t - v) < 1e-9 * Math.max(1, Math.abs(t)));
        return i >= 0 ? '{n|' + strs[i] + '}' : '';
      };
    }
    const mainX = {
      gridIndex: g, type: row.log ? 'log' : 'value', inverse: true, min: vr[0], max: vr[1], position: 'bottom', z: 10,
      axisLine: {show: true, onZero: false, lineStyle: {color: AXC, width: 1}},
      axisTick: {show: true, length: 5, customValues: tickVals, lineStyle: {color: AXC, width: 1}},
      axisLabel: {show: true, customValues: tickVals, rotate: 90, margin: 8, formatter: fmt, rich: richTick, color: '#000'},
      splitLine: {show: false}
    };
    if (r === 3) {
      mainX.name = colNames[c];
      mainX.nameLocation = 'middle';
      mainX.nameGap = NAME_GAP[c];
      mainX.nameTextStyle = {rich: richName(16, 11), fontFamily: FONT};
    }
    option.xAxis.push(mainX);
    option.xAxis.push({gridIndex: g, type: 'value', min: 0, max: 1, position: 'top', z: 10,
      axisLine: {show: true, onZero: false, lineStyle: {color: AXC, width: 1}}, axisTick: {show: false}, axisLabel: {show: false}, splitLine: {show: false}});
    if (row.log) {
      option.xAxis.push({gridIndex: g, type: 'log', inverse: true, min: vr[0], max: vr[1], position: 'bottom', z: 10,
        axisLine: {show: false, onZero: false}, axisTick: {show: true, length: 3, customValues: minorTicks(vr[0], vr[1], tickVals), lineStyle: {color: AXC, width: 1}},
        axisLabel: {show: false}, splitLine: {show: false}});
    }
    const yi = option.yAxis.length;
    const last = c === 9;
    const mainY = {gridIndex: g, type: 'value', min: row.range[0], max: row.range[1], position: 'right', z: 10,
      axisLine: {show: true, onZero: false, lineStyle: {color: AXC, width: 1}},
      axisTick: {show: last, length: 5, customValues: row.ticks, lineStyle: {color: AXC, width: 1}},
      axisLabel: {show: last, customValues: row.ticks, rotate: 90, margin: 8, fontSize: 19, fontFamily: FONT, color: '#000', formatter: v => String(v)},
      splitLine: {show: false}};
    if (last) {
      mainY.name = rowNames[r];
      mainY.nameLocation = 'middle';
      mainY.nameRotate = 90;
      mainY.nameGap = 36;
      mainY.nameTextStyle = {rich: richName(24, 16), fontFamily: FONT};
    }
    option.yAxis.push(mainY);
    option.yAxis.push({gridIndex: g, type: 'value', min: 0, max: 1, position: 'left', z: 10,
      axisLine: {show: true, onZero: false, lineStyle: {color: AXC, width: 1}}, axisTick: {show: false}, axisLabel: {show: false}, splitLine: {show: false}});

    const panel = row.data[c];
    const isLog = !!row.log;
    const xgrid = row.xgrid;
    option.series.push({
      type: 'custom', xAxisIndex: xi, yAxisIndex: yi, clip: true, silent: true,
      data: [[vr[1], row.range[0]]],
      renderItem: function (params, api) {
        const pt = p => api.coord([p[1], p[0]]);
        const ch = [];
        const fill = hexA(color, 0.3);
        if (isLog) {
          ['c95', 'c68'].forEach(k => {
            const cur = panel[k];
            const pts = cur.map(pt);
            const poly = pts.concat([api.coord([vr[0], cur[cur.length - 1][0]]), api.coord([vr[0], cur[0][0]])]);
            ch.push({type: 'polygon', shape: {points: poly}, style: {fill: fill}});
          });
          ['c95', 'c68'].forEach(k => {
            ch.push({type: 'polyline', shape: {points: panel[k].map(pt)}, style: {stroke: color, lineWidth: 1, fill: 'none'}});
          });
        } else {
          const e = k => edge(panel, k, xgrid).map(pt);
          const h95 = e('hi95'), l95 = e('lo95'), h68 = e('hi68'), l68 = e('lo68'), md = e('med');
          ch.push({type: 'polygon', shape: {points: h95.concat(l95.slice().reverse())}, style: {fill: fill}});
          ch.push({type: 'polygon', shape: {points: h68.concat(l68.slice().reverse())}, style: {fill: fill}});
          [h95, l95, h68, l68].forEach(p => ch.push({type: 'polyline', shape: {points: p}, style: {stroke: color, lineWidth: 1, fill: 'none'}}));
          ch.push({type: 'polyline', shape: {points: md}, style: {stroke: color, lineWidth: 1, lineDash: [4, 2], fill: 'none'}});
        }
        if (row.dotted != null) {
          ch.push({type: 'polyline', shape: {points: [api.coord([vr[1], row.dotted]), api.coord([vr[0], row.dotted])]},
            style: {stroke: '#000', lineWidth: 1.2, lineDash: [1.2, 1.8], fill: 'none'}});
        }
        if (row.red != null) {
          ch.push({type: 'polyline', shape: {points: [api.coord([vr[1], row.red]), api.coord([vr[0], row.red])]},
            style: {stroke: '#ff0000', lineWidth: 1, fill: 'none'}});
        }
        return {type: 'group', children: ch};
      }
    });
  }
});

// legend (rotated key)
option.graphic = [
  {type: 'rect', shape: {x: 7.5, y: 677, width: 26.5, height: 293, r: 3}, style: {fill: '#fff', stroke: '#d0d0d0', lineWidth: 1}, z: 20},
  {type: 'rect', shape: {x: 17, y: 930, width: 5, height: 36}, style: {fill: 'rgba(0,0,0,0.3)'}, z: 21},
  {type: 'text', x: 20.5, y: 906.5, rotation: Math.PI / 2, style: {text: '95%', fontSize: 14, fontFamily: FONT, fill: '#000', align: 'center', verticalAlign: 'middle'}, z: 21},
  {type: 'rect', shape: {x: 17, y: 825, width: 5, height: 38}, style: {fill: 'rgba(0,0,0,0.51)'}, z: 21},
  {type: 'text', x: 20.5, y: 802.5, rotation: Math.PI / 2, style: {text: '68%', fontSize: 14, fontFamily: FONT, fill: '#000', align: 'center', verticalAlign: 'middle'}, z: 21},
  {type: 'line', shape: {x1: 19.5, y1: 723, x2: 19.5, y2: 755}, style: {stroke: '#000', lineWidth: 1, lineDash: [4, 2]}, z: 21},
  {type: 'text', x: 20.5, y: 696.5, rotation: Math.PI / 2, style: {text: '50%', fontSize: 14, fontFamily: FONT, fill: '#000', align: 'center', verticalAlign: 'middle'}, z: 21}
];

const chart = echarts.init(document.getElementById('c'), null, {renderer: 'canvas'});
chart.setOption(option);
</script>
</body></html>
